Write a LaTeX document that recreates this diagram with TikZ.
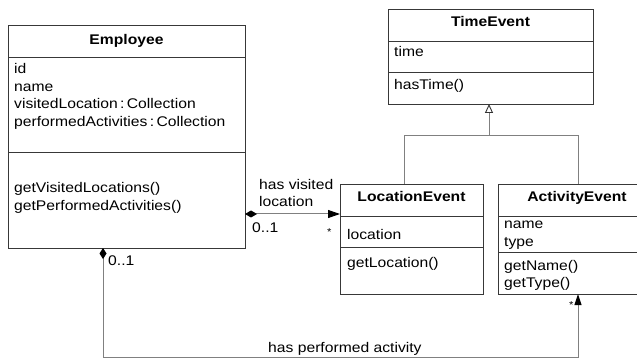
\documentclass[tikz,border=0pt]{standalone}
\usepackage{fontspec}
\setmainfont{Liberation Sans}[FakeStretch=1.12]
\usetikzlibrary{arrows.meta}
\tikzset{
  box/.style={draw=black!78, line width=0.9pt, inner sep=0pt, outer sep=0pt, anchor=north west, fill=white},
  sep/.style={draw=black!78, line width=0.9pt},
  conn/.style={draw=black!50, line width=1pt},
  txt/.style={anchor=base west, inner sep=0pt, font=\fontsize{14}{17}\selectfont},
  ttl/.style={anchor=base, inner sep=0pt, font=\fontsize{14}{17}\selectfont\bfseries},
  lbl/.style={anchor=base west, inner sep=0pt, font=\fontsize{14}{17}\selectfont},
}
\begin{document}
\begin{tikzpicture}[x=1pt,y=-1pt]
\useasboundingbox (0,0) rectangle (637,358);
\clip (0,0) rectangle (637,358);
% Employee
\node[box, minimum width=237pt, minimum height=223pt] (emp) at (8,25) {};
\draw[sep] (8,57) -- (245,57);
\draw[sep] (8,152) -- (245,152);
\node[ttl] (empt) at (126.5,45) {Employee};
\node[txt] (ea1) at (14,74) {id};
\node[txt] (ea2) at (14,91.5) {name};
\node[txt] (ea3) at (14,109) {visitedLocation\,:\,Collection};
\node[txt] (ea4) at (14,126.5) {performedActivities\,:\,Collection};
\node[txt] (em1) at (14,193) {getVisitedLocations()};
\node[txt] (em2) at (14,210.5) {getPerformedActivities()};
% TimeEvent
\node[box, minimum width=205pt, minimum height=95pt] (te) at (388,9) {};
\draw[sep] (388,41) -- (593,41);
\draw[sep] (388,72) -- (593,72);
\node[ttl] (tet) at (490.5,27) {TimeEvent};
\node[txt] (tea) at (394,57) {time};
\node[txt] (tem) at (394,90) {hasTime()};
% LocationEvent
\node[box, minimum width=143pt, minimum height=110pt] (le) at (340,184) {};
\draw[sep] (340,216) -- (483,216);
\draw[sep] (340,247) -- (483,247);
\node[ttl] (let) at (411.5,202) {LocationEvent};
\node[txt] (lea) at (347,240) {location};
\node[txt] (lem) at (347,267) {getLocation()};
% ActivityEvent
\node[box, minimum width=158pt, minimum height=110pt] (ae) at (498,184) {};
\draw[sep] (498,216) -- (656,216);
\draw[sep] (498,252) -- (656,252);
\node[ttl] (aet) at (577,202) {ActivityEvent};
\node[txt] (aea1) at (504,229) {name};
\node[txt] (aea2) at (504,246) {type};
\node[txt] (aem1) at (504,270) {getName()};
\node[txt] (aem2) at (504,287) {getType()};
% connector ports
\coordinate (teb) at (489,104);
\coordinate (gj) at (489,136);
\coordinate (gl) at (404,136);
\coordinate (gr) at (578,136);
\coordinate (let1) at (404,184);
\coordinate (aet1) at (578,184);
\coordinate (empr) at (245,214);
\coordinate (lel) at (340,214);
\coordinate (empb) at (103,248);
\coordinate (bl) at (103,357);
\coordinate (br) at (578,357);
\coordinate (aeb) at (578,294);
% generalization
\draw[conn] (let1) -- (gl) -- (gr) -- (aet1);
\draw[conn, -{Triangle[open, length=9pt, width=8pt, fill=white, line width=0.9pt]}, arrows={[color=black!80]}] (gj) -- (teb);
% has visited location
\draw[conn, {Diamond[length=12pt, width=7pt, color=black]}-{Triangle[length=12pt, width=8pt, color=black]}] (empr) -- (lel);
\node[lbl] (hv1) at (259,190) {has visited};
\node[lbl] (hv2) at (259,207) {location};
\node[lbl] (m1) at (252,233) {0..1};
\node[lbl, font=\fontsize{10}{12}\selectfont] (m2) at (327,236) {*};
% has performed activity
\draw[conn, {Diamond[length=11pt, width=7pt, color=black]}-{Triangle[length=11pt, width=7pt, color=black]}] (empb) -- (bl) -- (br) -- (aeb);
\node[lbl] (m3) at (108,265) {0..1};
\node[lbl, font=\fontsize{10}{12}\selectfont] (m4) at (569,308) {*};
\node[lbl] (hp) at (268,352) {has performed activity};
\end{tikzpicture}
\end{document}
